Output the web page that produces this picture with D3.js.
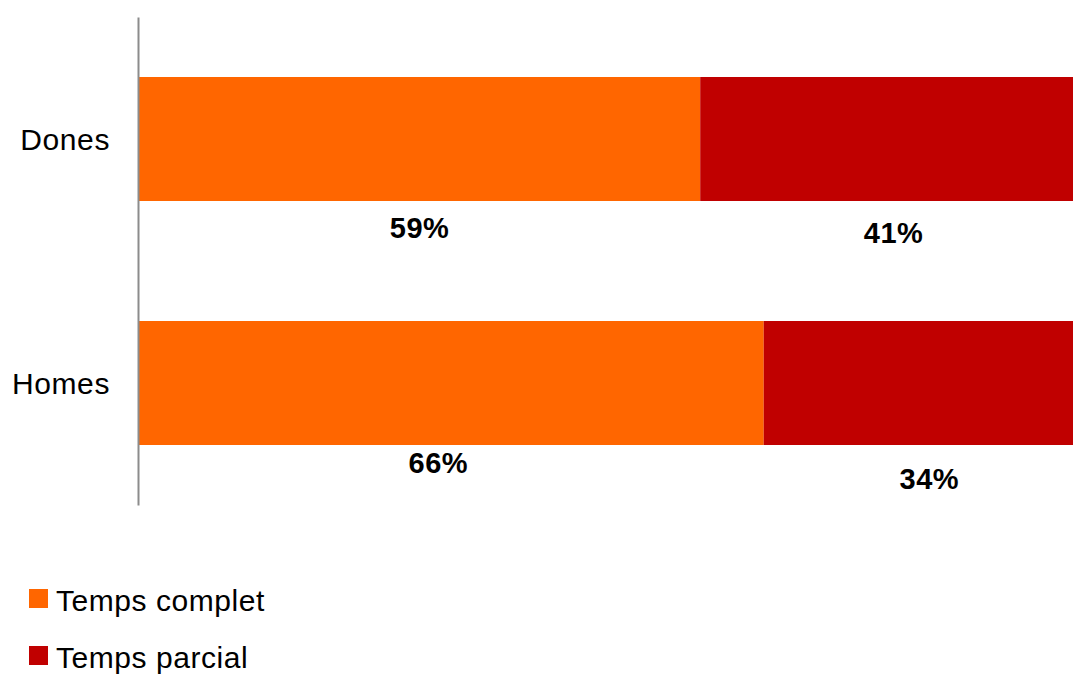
<!DOCTYPE html>
<html>
<head>
<meta charset="utf-8">
<script src="https://cdn.jsdelivr.net/npm/d3@7"></script>
<style>
  html, body { margin: 0; padding: 0; background: #ffffff; }
  svg { display: block; font-family: "Liberation Sans", Arial, sans-serif; }
</style>
</head>
<body>
<svg id="chart" width="1073" height="675"></svg>
<script>
// ---- Data ----
const categories = ["Dones", "Homes"];
const seriesNames = ["Temps complet", "Temps parcial"];
const tempsComplet = [0.592, 0.659];
const tempsParcial = [0.408, 0.341];
const valueLabels = [["59%", "41%"], ["66%", "34%"]];

// ---- Styles / layout ----
const colors = ["#FF6600", "#C00000"];
// label offsets (dx, dy from bar bottom) as placed in the original
const labelOffsets = [[[0, 37], [0, 42]], [[-13, 28], [4, 44]]];

const svg = d3.select("#chart");

const x = d3.scaleLinear().domain([0, 1]).range([139, 1087]);
const y = d3.scaleBand().domain(categories).range([17, 505])
  .paddingInner(0.4918).paddingOuter(0.2459);

const rows = categories.map((c, i) => {
  const vals = [tempsComplet[i], tempsParcial[i]];
  let acc = 0;
  return vals.map((v, j) => {
    const seg = { cat: c, i, j, x0: acc, x1: acc + v, label: valueLabels[i][j] };
    acc += v;
    return seg;
  });
}).flat();

svg.append("g").selectAll("rect")
  .data(rows)
  .join("rect")
  .attr("x", d => x(d.x0))
  .attr("y", d => y(d.cat))
  .attr("width", d => x(d.x1) - x(d.x0))
  .attr("height", y.bandwidth())
  .attr("fill", d => colors[d.j]);

// axis line
const yAxis = d3.axisLeft(y).tickSize(0).tickPadding(28);
const gAxis = svg.append("g").attr("transform", "translate(138,0)").call(yAxis);
gAxis.select(".domain").attr("stroke", "#8c8c8c").attr("stroke-width", 2);
gAxis.selectAll("text")
  .attr("font-size", 30)
  .attr("fill", "#000")
  .attr("letter-spacing", "0.6px")
  .attr("font-family", "Liberation Sans, Arial, sans-serif")
  .attr("dy", "0.36em");

// value labels
svg.append("g").selectAll("text")
  .data(rows)
  .join("text")
  .attr("x", d => (x(d.x0) + x(d.x1)) / 2 + labelOffsets[d.i][d.j][0])
  .attr("y", d => y(d.cat) + y.bandwidth() + labelOffsets[d.i][d.j][1])
  .attr("text-anchor", "middle")
  .attr("font-size", 29)
  .attr("font-weight", "bold")
  .attr("letter-spacing", "0.5px")
  .attr("fill", "#000")
  .text(d => d.label);

// legend
const legend = svg.append("g").selectAll("g")
  .data(seriesNames)
  .join("g")
  .attr("transform", (d, i) => `translate(29,${589 + i * 57})`);
legend.append("rect")
  .attr("width", 19).attr("height", 19)
  .attr("fill", (d, i) => colors[i]);
legend.append("text")
  .attr("x", 27).attr("y", 22)
  .attr("font-size", 30)
  .attr("letter-spacing", "0.55px")
  .attr("fill", "#000")
  .text(d => d);
</script>
</body>
</html>
